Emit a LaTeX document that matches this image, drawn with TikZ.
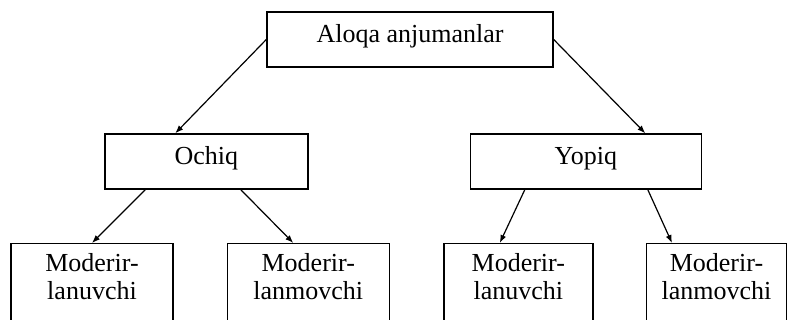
\documentclass[tikz,border=0pt]{standalone}
\usepackage{fontspec}
\setmainfont{Liberation Serif}
\usetikzlibrary{arrows.meta}

\begin{document}
\begin{tikzpicture}[x=1pt, y=-1pt,
	box/.style={draw, line width=1.4pt, minimum height=55pt, inner sep=0pt, text height=17pt, text depth=10pt, font=\fontsize{26}{28}\selectfont},
	leaf/.style={draw, line width=1.4pt, anchor=north, align=center, inner xsep=0pt, inner ysep=10pt, text depth=100pt, font=\fontsize{26}{28}\selectfont},
	arr/.style={line width=1.2pt, -{Latex[length=8pt, width=6pt]}}]
	\def\W{787};
	\def\H{320};

	\useasboundingbox (0,0) rectangle (\W,\H);
	\clip (0,0) rectangle (\W,\H);

	\begin{scope}
		\node[box, minimum width=286pt] (top) at (410,39.5) {Aloqa anjumanlar};
		\node[box, minimum width=203pt] (ochiq) at (206.3,161.5) {Ochiq};
		\node[box, minimum width=231pt] (yopiq) at (585.8,161.5) {Yopiq};
	\end{scope}

	\begin{scope}
		\node[leaf, minimum width=162pt] (ochiqA) at (92,243) {Moderir-\\lanuvchi};
		\node[leaf, minimum width=162pt] (ochiqB) at (308.3,243) {Moderir-\\lanmovchi};
		\node[leaf, minimum width=149pt] (yopiqA) at (518.3,243) {Moderir-\\lanuvchi};
		\node[leaf, minimum width=140pt] (yopiqB) at (716.5,243) {Moderir-\\lanmovchi};
	\end{scope}

	\begin{scope}
		\draw[arr] (top.west) -- ([xshift=-31pt]ochiq.north);
		\draw[arr] (top.east) -- ([xshift=59.5pt]yopiq.north);
		\draw[arr] ([xshift=-61pt]ochiq.south) -- (ochiqA.north);
		\draw[arr] ([xshift=34.5pt]ochiq.south) -- ([xshift=-15pt]ochiqB.north);
		\draw[arr] ([xshift=-61pt]yopiq.south) -- ([xshift=-18.5pt]yopiqA.north);
		\draw[arr] ([xshift=62pt]yopiq.south) -- ([xshift=-44.5pt]yopiqB.north);
	\end{scope}
\end{tikzpicture}
\end{document}
